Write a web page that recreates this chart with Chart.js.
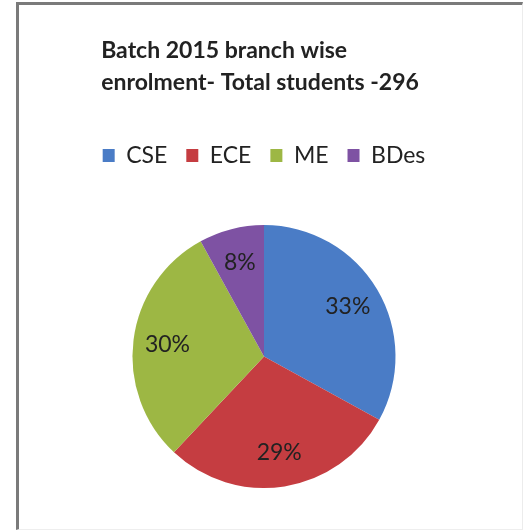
<!DOCTYPE html>
<html>
<head>
<meta charset="utf-8">
<script src="https://cdn.jsdelivr.net/npm/chart.js@4/dist/chart.umd.min.js"></script>
<style>
html,body{margin:0;padding:0;background:#fff;}
#wrap{position:relative;width:526px;height:530px;}
#frame{position:absolute;left:16px;top:2px;width:503px;height:524px;
  border-top:3px solid #7a7a7a;border-left:3px solid #7a7a7a;
  border-right:1px solid #ececec;border-bottom:1px solid #eeeeee;}
</style>
</head>
<body>
<div id="wrap">
  <div id="frame"></div>
  <canvas id="chartBranch"></canvas>
</div>
<script>
/* =========================
   DATOS
========================= */

let branches = ["CSE", "ECE", "ME", "BDes"];
let shares = [33, 29, 30, 8];
let titleLines = ["Batch 2015 branch wise", "enrolment- Total students -296"];

let colores = ["#4a7cc6", "#c53d41", "#9db744", "#7e52a3"];
let fuente = "Lato, 'Open Sans', sans-serif";

/* =========================
   PLUGINS
========================= */

/* titulo en bloque alineado a la izquierda */
const titleBlock = {
  id: "titleBlock",
  afterDraw(chart) {
    const ctx = chart.ctx;
    ctx.save();
    ctx.font = "bold 23px " + fuente;
    ctx.fillStyle = "#222";
    ctx.textBaseline = "middle";
    ctx.textAlign = "left";
    let w = Math.max(...titleLines.map(t => ctx.measureText(t).width));
    let cx = (chart.chartArea.left + chart.chartArea.right) / 2;
    let x = cx - w / 2 - 4;
    titleLines.forEach((t, i) => {
      ctx.fillText(t, x, 51 + i * 32);
    });
    ctx.restore();
  }
};

/* etiquetas de porcentaje dentro del pie */
const sliceLabels = {
  id: "sliceLabels",
  afterDatasetsDraw(chart) {
    const ctx = chart.ctx;
    const meta = chart.getDatasetMeta(0);
    ctx.save();
    ctx.font = "23px " + fuente;
    ctx.fillStyle = "#222";
    ctx.textAlign = "center";
    ctx.textBaseline = "middle";
    meta.data.forEach((arc, i) => {
      const p = arc.getProps(["x", "y", "startAngle", "endAngle", "outerRadius"], true);
      const mid = (p.startAngle + p.endAngle) / 2;
      const r = p.outerRadius * 0.74;
      ctx.fillText(shares[i] + "%", p.x + Math.cos(mid) * r, p.y + Math.sin(mid) * r);
    });
    ctx.restore();
  }
};

/* espacio extra debajo de la leyenda */
const legendGap = {
  id: "legendGap",
  beforeInit(chart) {
    const fit = chart.legend.fit;
    chart.legend.fit = function() {
      fit.bind(chart.legend)();
      this.height += 48;
    };
  }
};

/* =========================
   CHART
========================= */

new Chart(document.getElementById("chartBranch"), {
type: "pie",
data: {
labels: branches,
datasets: [{
data: shares,
backgroundColor: colores,
borderWidth: 0
}]
},
options: {
  responsive: true,
  maintainAspectRatio: false,
  devicePixelRatio: 1,
  animation: false,
  layout: {
    padding: { top: 125, bottom: 42, left: 28, right: 26 }
  },
  plugins: {
    title: { display: false },
    tooltip: { enabled: false },
    legend: {
      position: "top",
      labels: {
        boxWidth: 12,
        boxHeight: 13,
        padding: 19,
        color: "#222",
        font: { family: fuente, size: 23 }
      }
    }
  }
},
plugins: [titleBlock, sliceLabels, legendGap]
});
</script>
</body>
</html>
